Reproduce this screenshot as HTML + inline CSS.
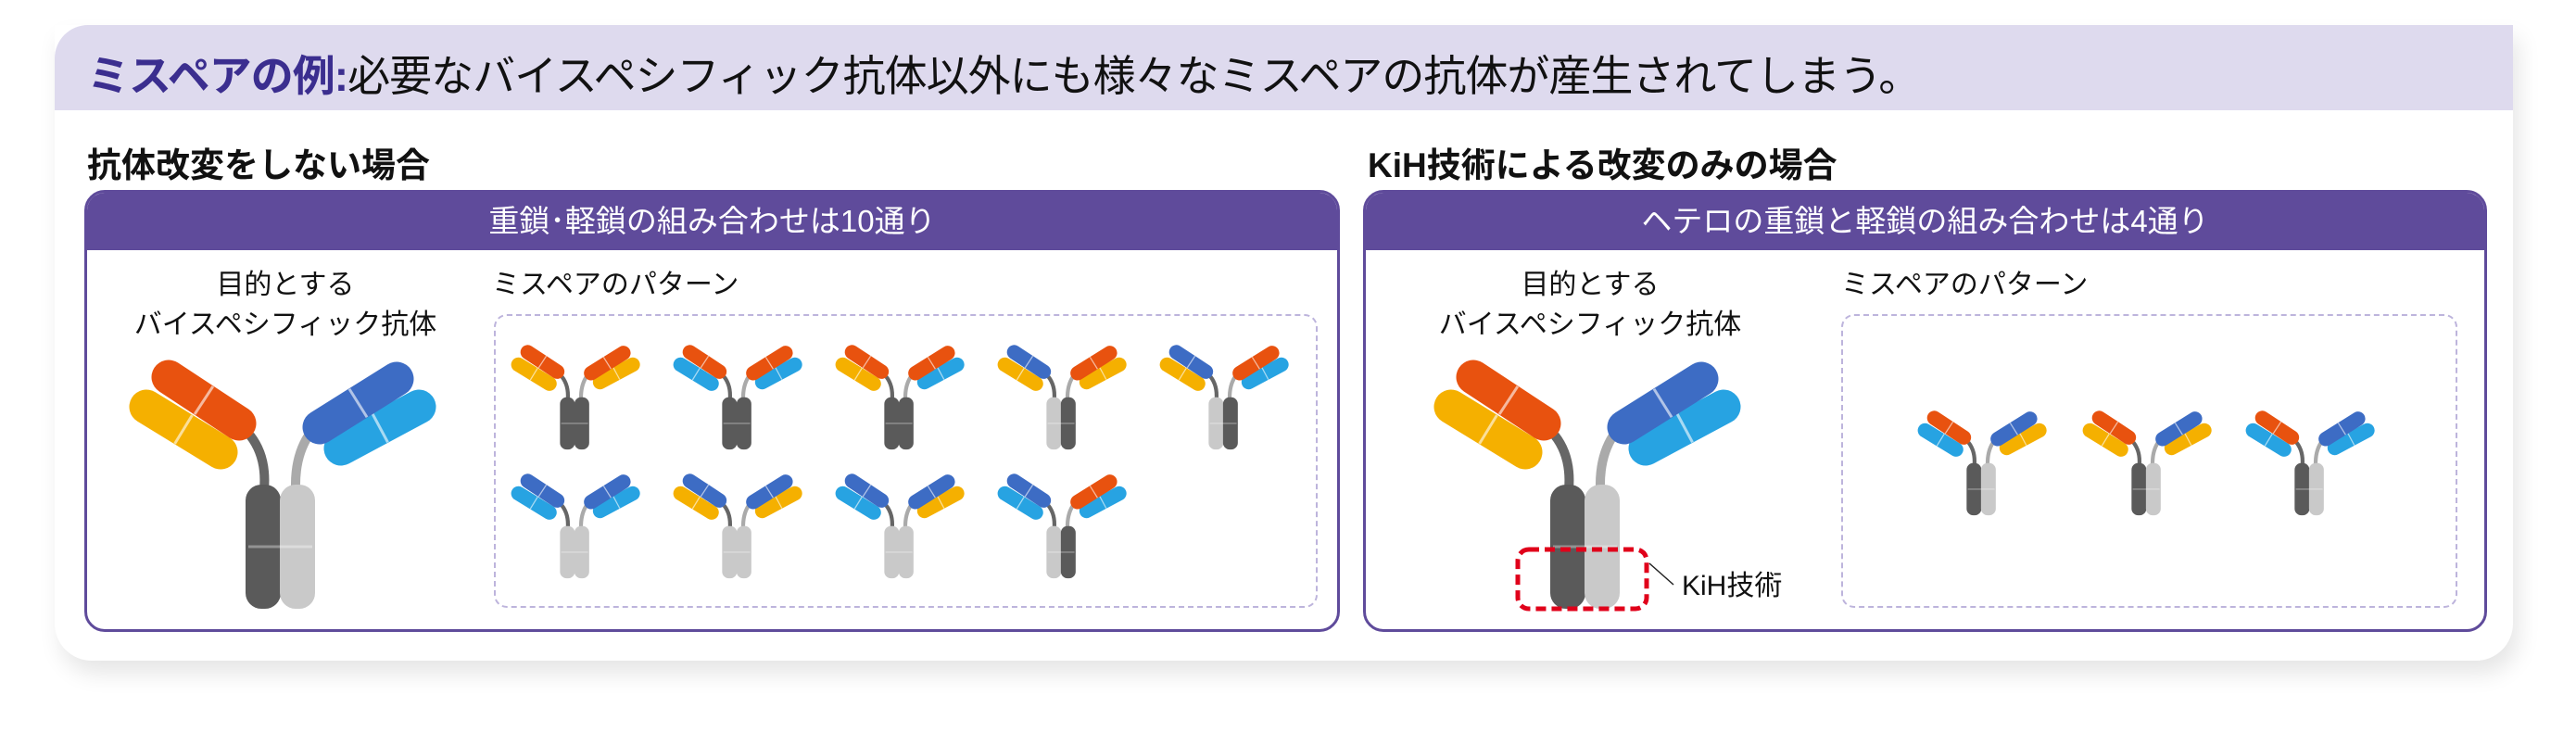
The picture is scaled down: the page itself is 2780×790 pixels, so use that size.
<!DOCTYPE html>
<html><head><meta charset="utf-8"><style>
html,body{margin:0;padding:0;background:#fff;}
body{width:2780px;height:790px;position:relative;overflow:hidden;font-family:"Liberation Sans","Noto Sans CJK JP",sans-serif;}
.card{position:absolute;left:59px;top:27px;width:2653px;height:686px;background:#fff;border-radius:0 0 40px 40px;box-shadow:6px 14px 24px rgba(0,0,0,0.10);}
.hdr{position:absolute;left:59px;top:27px;width:2653px;height:92px;background:#dedaee;border-radius:36px 0 0 0;}
.title{position:absolute;left:94px;top:46px;font-size:46px;color:#111;white-space:nowrap;letter-spacing:-1px;}
.title b{color:#3b2e8f;}
.sub{position:absolute;top:148px;font-size:37px;font-weight:bold;color:#111;white-space:nowrap;}
.box{position:absolute;top:205px;height:471px;border:3px solid #5f4b9b;border-radius:22px;background:#fff;overflow:hidden;}
.bh{position:absolute;left:0;top:0;right:0;height:62px;background:#5f4b9b;color:#fff;font-size:33px;text-align:center;line-height:62px;}
.lbl{position:absolute;font-size:30px;color:#111;white-space:nowrap;text-align:center;line-height:43px;}
.dash{position:absolute;top:339px;height:313px;border:2px dashed #bdb4dc;border-radius:14px;}
svg{position:absolute;left:0;top:0;}
</style></head><body>
<div class="card"></div>
<div class="hdr"></div>
<div class="title"><b>ミスペアの例:</b>必要なバイスペシフィック抗体以外にも様々なミスペアの抗体が産生されてしまう。</div>
<div class="sub" style="left:94px">抗体改変をしない場合</div>
<div class="sub" style="left:1476px">KiH技術による改変のみの場合</div>
<div class="box" style="left:91px;width:1349px"><div class="bh">重鎖･軽鎖の組み合わせは10通り</div></div>
<div class="box" style="left:1471px;width:1207px"><div class="bh">ヘテロの重鎖と軽鎖の組み合わせは4通り</div></div>
<div class="lbl" style="left:108px;width:400px;top:286px">目的とする<br>バイスペシフィック抗体</div>
<div class="lbl" style="left:1516px;width:400px;top:286px">目的とする<br>バイスペシフィック抗体</div>
<div class="lbl" style="left:531px;top:286px">ミスペアのパターン</div>
<div class="lbl" style="left:1987px;top:286px">ミスペアのパターン</div>
<div class="dash" style="left:533px;width:885px"></div>
<div class="dash" style="left:1987px;width:661px"></div>
<div class="lbl" style="left:1815px;top:611px">KiH技術</div>
<svg id="s" width="2780" height="790" xmlns="http://www.w3.org/2000/svg">
<rect x="1638" y="593" width="139" height="64" rx="12" fill="none" stroke="#e0001a" stroke-width="5" stroke-dasharray="11 6"/>
<line x1="1780" y1="608" x2="1806" y2="631" stroke="#222" stroke-width="1.5"/>
</svg>
<script>
var O='#e8520f',Y='#f5b000',B='#3d6cc4',C='#27a3e2',D='#5a5a5a',L='#c9c9c9';
var out='';
function cap(x1,y1,x2,y2,c){
 var mx=(x1+x2)/2,my=(y1+y2)/2,dx=x2-x1,dy=y2-y1,l=Math.hypot(dx,dy),px=-dy/l*18,py=dx/l*18;
 return '<line x1="'+x1+'" y1="'+y1+'" x2="'+x2+'" y2="'+y2+'" stroke="'+c+'" stroke-width="37" stroke-linecap="round"/>'+
 '<line x1="'+(mx-px)+'" y1="'+(my-py)+'" x2="'+(mx+px)+'" y2="'+(my+py)+'" stroke="rgba(255,255,255,0.6)" stroke-width="3"/>';
}
function ab(x,y,s,lh,ll,rh,rl,lc,rc){
 var g='<g transform="translate('+x+','+y+') scale('+s+')">';
 g+='<path d="M132 87 Q150 110 147 145" fill="none" stroke="#666" stroke-width="10"/>';
 g+='<path d="M195 87 Q180 110 181 145" fill="none" stroke="#aaa" stroke-width="10"/>';
 g+='<rect x="127" y="140" width="38" height="134" rx="17" fill="'+lc+'"/>';
 g+='<rect x="164" y="140" width="38" height="134" rx="17" fill="'+rc+'"/>';
 g+='<line x1="130" y1="207" x2="199" y2="207" stroke="rgba(255,255,255,0.35)" stroke-width="3"/>';
 g+=cap(20,56,100,105,ll)+cap(44,24,120,74,lh);
 g+=cap(314,56,230,101,rl)+cap(290,26,207,78,rh);
 g+='</g>';out+=g;
}
ab(138,383,1,O,Y,B,C,D,L);
ab(1546,383,1,O,Y,B,C,D,L);
var s=0.42,r1=[[O,Y,O,Y,D,D],[O,C,O,C,D,D],[O,Y,O,C,D,D],[B,Y,O,Y,L,D],[B,Y,O,C,L,D]];
var r2=[[B,C,B,C,L,L],[B,Y,B,Y,L,L],[B,C,B,Y,L,L],[B,C,O,C,L,D]];
var xs=[551,726,901,1076,1251];
r1.forEach(function(c,i){ab(xs[i],370,s,c[0],c[1],c[2],c[3],c[4],c[5]);});
r2.forEach(function(c,i){ab(xs[i],509,s,c[0],c[1],c[2],c[3],c[4],c[5]);});
var r3=[[O,C,B,Y],[O,Y,B,Y],[O,C,B,C]],x3=[2069,2247,2423];
r3.forEach(function(c,i){ab(x3[i],441,s,c[0],c[1],c[2],c[3],D,L);});
document.getElementById('s').insertAdjacentHTML('afterbegin',out);
</script>
</body></html>
